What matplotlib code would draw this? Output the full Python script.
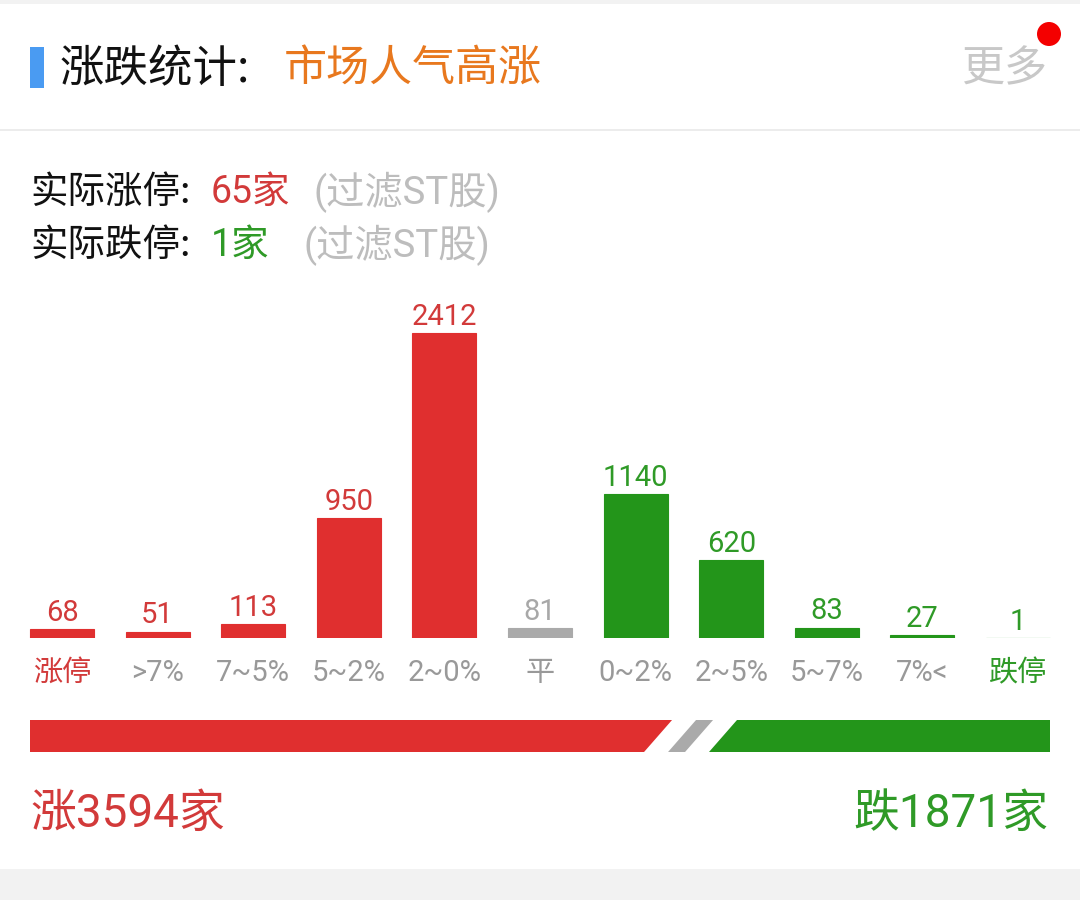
import matplotlib.pyplot as plt
from matplotlib.patches import Rectangle, Polygon, Circle

plt.rcParams['font.family'] = ['Noto Sans CJK SC', 'DejaVu Sans']
MIX = ['Roboto', 'Noto Sans CJK SC']

# data
categories = ['涨停', '>7%', '7~5%', '5~2%', '2~0%', '平', '0~2%', '2~5%', '5~7%', '7%<', '跌停']
counts = [68, 51, 113, 950, 2412, 81, 1140, 620, 83, 27, 1]
sides = ['up', 'up', 'up', 'up', 'up', 'flat', 'down', 'down', 'down', 'down', 'down']
limit_up_real = 65
limit_down_real = 1
total_up = 3594
total_flat = 81
total_down = 1871

RED = '#e02f2f'
GREEN = '#23951a'
GREY = '#aaaaaa'
bar_colors = {'up': RED, 'flat': GREY, 'down': GREEN}
text_colors = {'up': '#d23a3a', 'flat': '#a8a8a8', 'down': '#2f9a27'}

W, H = 1080, 908
fig = plt.figure(figsize=(W / 100, H / 100), dpi=100)
fig.patch.set_facecolor('white')

# background axes in pixel coordinates
bg = fig.add_axes([0, 0, 1, 1])
bg.set_xlim(0, W)
bg.set_ylim(H, 0)
bg.axis('off')
bg.add_patch(Rectangle((0, 0), W, 4, color='#f2f2f2', lw=0))
bg.add_patch(Rectangle((0, 129), W, 2, color='#ececec', lw=0))
bg.add_patch(Rectangle((0, 869), W, 31, color='#f2f2f2', lw=0))

# header
bg.add_patch(Rectangle((30, 47), 14, 41, color='#4a9bf2', lw=0))
bg.text(60, 69, '涨跌统计:', fontsize=32, color='#111111', va='center', ha='left')
bg.text(284, 69, '市场人气高涨', fontsize=31, color='#e8781e', va='center', ha='left')
bg.text(1048, 69, '更多', fontsize=31, color='#c8c8c8', va='center', ha='right')
bg.add_patch(Circle((1049, 34), 12, color='#f40000', lw=0))

# limit up / down lines
bg.text(30, 192, '实际涨停:', fontsize=27, color='#111111', va='center')
bg.text(211, 192, f'{limit_up_real}家', fontsize=27, color='#d23a3a', va='center', family=MIX)
bg.text(313, 192, '(过滤ST股)', fontsize=27.5, color='#bdbdbd', va='center', family=MIX)
bg.text(30, 245, '实际跌停:', fontsize=27, color='#111111', va='center')
bg.text(211, 245, f'{limit_down_real}家', fontsize=27, color='#2f9a27', va='center', family=MIX)
bg.text(304, 245, '(过滤ST股)', fontsize=27.5, color='#bdbdbd', va='center', family=MIX)

# bar chart axes: baseline at y=638 px, x centres spaced ~95.6 px from 62
step = 95.6
left_px = 62 - step / 2
base_px = 638
top_px = 300
px_per_unit = 305 / max(counts)
ax = fig.add_axes([left_px / W, (H - base_px) / H, step * len(counts) / W, (base_px - top_px) / H])
ax.set_xlim(-0.5, len(counts) - 0.5)
ax.set_ylim(0, (base_px - top_px) / px_per_unit)
ax.axis('off')
ax.patch.set_alpha(0)
xs = list(range(len(counts)))
cols = [bar_colors[s] for s in sides]
ax.bar(xs, counts, width=0.67, color=cols, edgecolor=cols, linewidth=0.8)
for x, c, s in zip(xs, counts, sides):
    ax.annotate(str(c), (x, c), xytext=(0, 1.5), textcoords='offset points',
                ha='center', va='bottom', fontsize=21, color=text_colors[s], family=MIX)

# category labels
for x, lab, s in zip(xs, categories, sides):
    colr = '#999999'
    if lab == '涨停':
        colr = '#d23a3a'
    elif lab == '跌停':
        colr = '#2f9a27'
    bg.text(62 + x * step, 673, lab, fontsize=21, color=colr, ha='center', va='center', family=MIX)

# proportion bar
x0, x1 = 30, 1050
y0, y1 = 720, 752
gap = 24
slant = 28
w_flat = 17
avail = (x1 - x0) - 2 * gap - w_flat
w_up = avail * total_up / (total_up + total_down)
e1 = x0 + w_up
bg.add_patch(Polygon([(x0, y0), (e1 + slant / 2, y0), (e1 - slant / 2, y1), (x0, y1)],
                     closed=True, color=RED, lw=0))
f0 = e1 + gap
f1 = f0 + w_flat
bg.add_patch(Polygon([(f0 + slant / 2, y0), (f1 + slant / 2, y0), (f1 - slant / 2, y1), (f0 - slant / 2, y1)],
                     closed=True, color=GREY, lw=0))
g0 = f1 + gap
bg.add_patch(Polygon([(g0 + slant / 2, y0), (x1, y0), (x1, y1), (g0 - slant / 2, y1)],
                     closed=True, color=GREEN, lw=0))

bg.text(30, 814, f'涨{total_up}家', fontsize=33, color='#d23a3a', va='center', ha='left', family=MIX)
bg.text(1048, 814, f'跌{total_down}家', fontsize=33, color='#2f9a27', va='center', ha='right', family=MIX)

fig.savefig('out.png', dpi=100)
